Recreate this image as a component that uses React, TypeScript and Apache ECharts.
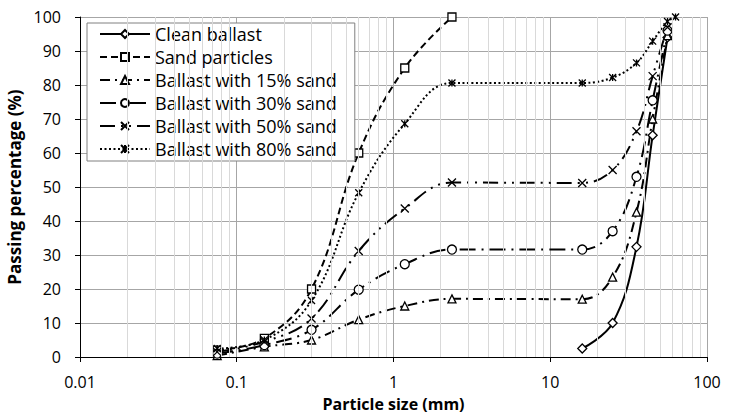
import React, { useEffect, useRef } from "react";
import * as echarts from "echarts";

// Sieve sizes (mm) at which the passing percentages were measured
const sieveSizes = [0.075, 0.15, 0.3, 0.6, 1.18, 2.36, 16, 25, 35.5, 45, 56, 63];

// Passing percentage (%) per sieve; null where the gradation has no reading
const cleanBallast = [null, null, null, null, null, null, 2.5, 10, 32.4, 65.2, 94, null];
const sandParticles = [2, 5.5, 20, 60, 85, 100, null, null, null, null, null, null];
const ballast15 = [0.4, 3, 5, 11, 15, 17.1, 17, 23.5, 42.6, 70, 94.5, null];
const ballast30 = [1, 3.5, 8, 19.8, 27.3, 31.6, 31.6, 37, 53, 75.5, 96, null];
const ballast50 = [1.5, 4.5, 11.3, 31.2, 43.7, 51.3, 51.2, 55, 66.4, 82.6, 97, null];
const ballast80 = [2.5, 5, 16.6, 48.3, 68.6, 80.6, 80.6, 82.2, 86.5, 92.9, 98.7, 100];

const seriesNames = [
  "Clean ballast",
  "Sand particles",
  "Ballast with 15% sand",
  "Ballast with 30% sand",
  "Ballast with 50% sand",
  "Ballast with 80% sand",
];

// Minor vertical grid lines of the log axis (2..9 within each decade)
const decades = [0.01, 0.1, 1, 10];
const minorMultipliers = [2, 3, 4, 5, 6, 7, 8, 9];

const FONT = "'Open Sans', 'Liberation Sans', sans-serif";

const CROSS = "path://M0,0L10,10M10,0L0,10";
const STAR = "path://M0,0L10,10M10,0L0,10M5,0L5,10";

function toPairs(values: (number | null)[]) {
  const out: [number, number][] = [];
  values.forEach((v, i) => {
    if (v !== null) out.push([sieveSizes[i], v]);
  });
  return out;
}

function lineSeries(
  name: string,
  values: (number | null)[],
  symbol: string,
  dash: number[] | "solid",
  symbolSize = 8
) {
  return {
    name,
    type: "line",
    data: toPairs(values),
    smooth: 0.4,
    symbol,
    symbolSize,
    showSymbol: true,
    z: 3,
    itemStyle: { color: "#fff", borderColor: "#000", borderWidth: 1.3 },
    lineStyle: { color: "#000", width: 2, type: dash, cap: "butt" },
    emphasis: { disabled: true },
  };
}

export default function App() {
  const ref = useRef<HTMLDivElement>(null);

  useEffect(() => {
    if (!ref.current) return;
    const chart = echarts.init(ref.current, undefined, { renderer: "svg" });

    const minorLines: { xAxis: number }[] = [];
    decades.forEach((d) =>
      minorMultipliers.forEach((m) => minorLines.push({ xAxis: Number((d * m).toPrecision(4)) }))
    );

    chart.setOption({
      animation: false,
      backgroundColor: "#fff",
      textStyle: { fontFamily: FONT },
      grid: {
        left: 80,
        right: 31,
        top: 17,
        bottom: 57,
        containLabel: false,
        outerBoundsMode: "none",
      },
      legend: {
        data: seriesNames,
        orient: "vertical",
        left: 87,
        top: 23,
        itemWidth: 50,
        itemHeight: 10,
        itemGap: 5,
        padding: [2, 18, 3, 12],
        backgroundColor: "#fff",
        borderColor: "#808080",
        borderWidth: 1,
        selectedMode: false,
        textStyle: { fontSize: 18, lineHeight: 16, color: "#000", fontFamily: FONT },
      },
      xAxis: {
        type: "log",
        logBase: 10,
        min: 0.01,
        max: 100,
        name: "Particle size (mm)",
        nameLocation: "middle",
        nameGap: 33,
        nameTextStyle: {
          fontSize: 16,
          lineHeight: 18,
          fontWeight: "bold",
          color: "#000",
          fontFamily: FONT,
        },
        axisLine: { show: true, onZero: false, lineStyle: { color: "#000", width: 1 } },
        axisTick: { show: true, length: 5, lineStyle: { color: "#000" } },
        axisLabel: {
          fontSize: 16,
          color: "#000",
          margin: 17,
          fontFamily: FONT,
          formatter: (v: number) => String(Number(v.toPrecision(4))),
        },
        splitLine: { show: true, lineStyle: { color: "#a6a6a6", width: 1 } },
      },
      yAxis: {
        type: "value",
        min: 0,
        max: 100,
        interval: 10,
        name: "Passing percentage (%)",
        nameLocation: "middle",
        nameGap: 44,
        nameTextStyle: { fontSize: 17, fontWeight: "bold", color: "#000", fontFamily: FONT },
        axisLine: { show: true, lineStyle: { color: "#000", width: 1 } },
        axisTick: { show: true, length: 5, lineStyle: { color: "#000" } },
        axisLabel: { fontSize: 16, color: "#000", margin: 19, fontFamily: FONT },
        splitLine: { show: true, lineStyle: { color: "#a6a6a6", width: 1 } },
      },
      series: [
        {
          name: "minor-grid",
          type: "line",
          data: [],
          z: 1,
          silent: true,
          markLine: {
            silent: true,
            symbol: "none",
            label: { show: false },
            lineStyle: { color: "#d9d9d9", width: 1, type: "solid" },
            emphasis: { disabled: true },
            data: minorLines,
          },
        },
        lineSeries(seriesNames[0], cleanBallast, "diamond", "solid", 9),
        lineSeries(seriesNames[1], sandParticles, "rect", [7, 4]),
        lineSeries(seriesNames[2], ballast15, "triangle", [10, 5, 2, 5]),
        lineSeries(seriesNames[3], ballast30, "circle", [16, 6, 2, 6], 9),
        lineSeries(seriesNames[4], ballast50, CROSS, [15, 6, 2, 6, 2, 6]),
        lineSeries(seriesNames[5], ballast80, STAR, [2, 2.5], 7),
      ],
    });

    return () => chart.dispose();
  }, []);

  return (
    <div
      ref={ref}
      style={{ position: "fixed", left: 0, top: 0, width: 738, height: 414 }}
    />
  );
}
